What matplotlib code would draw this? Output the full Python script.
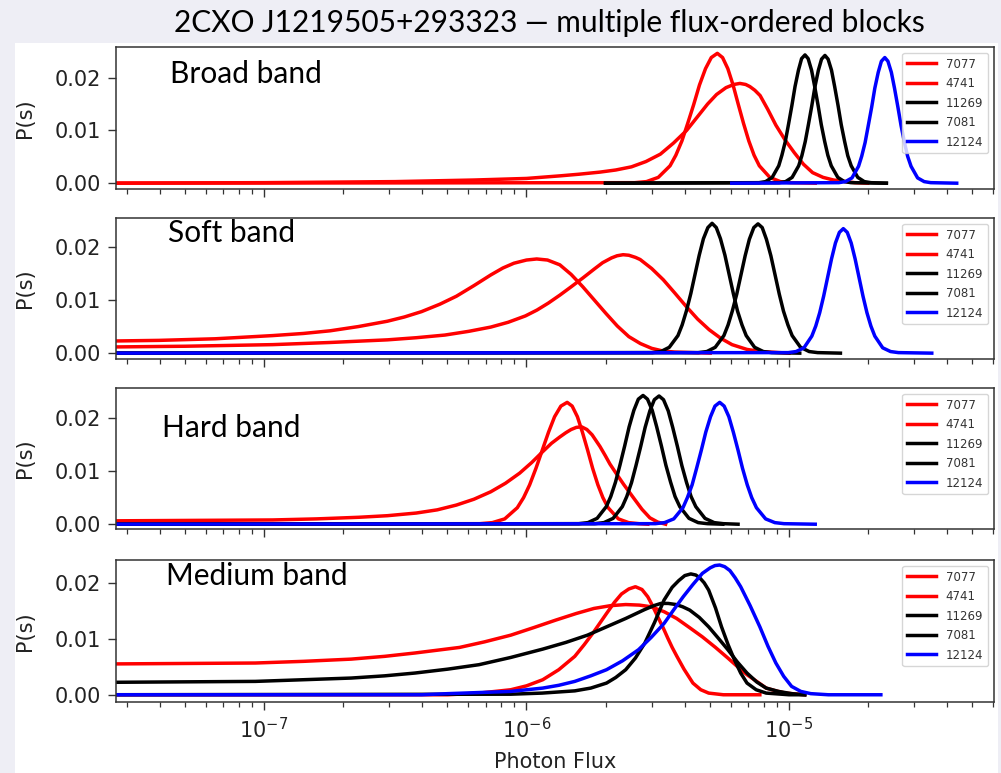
import numpy as np
import matplotlib.pyplot as plt
from matplotlib.patches import Rectangle
from matplotlib.ticker import FormatStrFormatter

title = '2CXO J1219505+293323 \u2014 multiple flux-ordered blocks'
band_names = ['Broad band', 'Soft band', 'Hard band', 'Medium band']
obs_ids = ['7077', '4741', '11269', '7081', '12124']
obs_colors = ['#ff0000', '#ff0000', '#000000', '#000000', '#0000ff']

# log10(photon flux) and P(s)
broad_7077_logf = [-7.7, -5.588, -5.543, -5.498, -5.453, -5.431, -5.408, -5.386, -5.363, -5.341, -5.318, -5.296, -5.273, -5.253, -5.233, -5.213, -5.193, -5.173, -5.153, -5.133, -5.113, -5.073, -5.033, -4.993, -4.9]
broad_7077_p = [0, .0001, .0003, .0011, .0033, .0053, .0080, .0113, .0149, .0186, .0217, .0238, .0246, .0238, .0217, .0186, .0149, .0113, .0080, .0053, .0033, .0011, .0003, .0001, 0]
broad_4741_logf = [-7.7, -7.0, -6.5, -6.2, -6.0, -5.87, -5.8, -5.72, -5.66, -5.6, -5.545, -5.49, -5.44, -5.39, -5.35, -5.31, -5.276, -5.24, -5.21, -5.187, -5.165, -5.149, -5.13, -5.11, -5.081, -5.05, -5.015, -4.98, -4.945, -4.91, -4.87, -4.83, -4.75, -4.7]
broad_4741_p = [0, .0001, .0003, .0006, .0009, .0014, .0017, .0021, .0025, .0031, .0041, .0055, .0076, .0100, .0125, .0150, .0168, .0181, .0187, .0189, .0187, .0183, .0176, .0166, .0140, .0110, .0082, .0058, .0036, .0020, .0011, .0006, .0001, 0]
broad_11269_logf = [-5.699, -5.114, -5.089, -5.064, -5.039, -5.027, -5.014, -5.002, -4.989, -4.977, -4.964, -4.952, -4.939, -4.927, -4.914, -4.902, -4.889, -4.877, -4.864, -4.852, -4.839, -4.814, -4.789, -4.764, -4.629]
broad_11269_p = [0, .0001, .0003, .0011, .0033, .0053, .0079, .0111, .0147, .0183, .0214, .0236, .0243, .0236, .0214, .0183, .0147, .0111, .0079, .0053, .0033, .0011, .0003, .0001, 0]
broad_7081_logf = [-5.699, -5.038, -5.013, -4.988, -4.963, -4.951, -4.938, -4.926, -4.913, -4.901, -4.888, -4.876, -4.863, -4.851, -4.838, -4.826, -4.813, -4.801, -4.788, -4.776, -4.763, -4.738, -4.713, -4.688, -4.629]
broad_7081_p = [0, .0001, .0003, .0011, .0033, .0052, .0079, .0111, .0147, .0183, .0214, .0235, .0242, .0235, .0214, .0183, .0147, .0111, .0079, .0052, .0033, .0011, .0003, .0001, 0]
broad_12124_logf = [-5.218, -4.81, -4.785, -4.76, -4.735, -4.723, -4.71, -4.698, -4.685, -4.673, -4.66, -4.648, -4.635, -4.623, -4.61, -4.598, -4.585, -4.573, -4.56, -4.548, -4.535, -4.51, -4.485, -4.46, -4.361]
broad_12124_p = [0, .0001, .0003, .0010, .0032, .0051, .0077, .0109, .0144, .0180, .0210, .0231, .0238, .0231, .0210, .0180, .0144, .0109, .0077, .0051, .0032, .0010, .0003, .0001, 0]

soft_7077_logf = [-7.7, -7.4, -7.186, -6.967, -6.85, -6.748, -6.64, -6.53, -6.465, -6.40, -6.33, -6.267, -6.2, -6.136, -6.09, -6.048, -6.0, -5.961, -5.92, -5.873, -5.83, -5.786, -5.742, -5.698, -5.654, -5.61, -5.566, -5.523, -5.48, -5.435, -5.3]
soft_7077_p = [.0022, .0024, .0027, .0033, .0037, .0042, .0050, .0060, .0068, .0078, .0092, .0107, .0127, .0147, .0160, .0169, .0175, .0177, .0175, .0166, .0148, .0125, .0100, .0075, .0051, .0031, .0018, .0009, .0004, .0002, 0]
soft_4741_logf = [-7.7, -7.3, -6.967, -6.75, -6.53, -6.42, -6.311, -6.22, -6.136, -6.07, -6.004, -5.96, -5.917, -5.873, -5.829, -5.786, -5.742, -5.71, -5.676, -5.655, -5.632, -5.61, -5.585, -5.567, -5.523, -5.479, -5.435, -5.392, -5.348, -5.304, -5.26, -5.217, -5.16, -5.107, -5.0]
soft_4741_p = [.0011, .0013, .0016, .0020, .0025, .0029, .0034, .0041, .0049, .0058, .0070, .0081, .0094, .0109, .0125, .0141, .0158, .0170, .0179, .0183, .0185, .0184, .0180, .0176, .0159, .0138, .0113, .0088, .0064, .0044, .0028, .0016, .0007, .0003, 0]
soft_11269_logf = [-7.7, -5.521, -5.488, -5.456, -5.423, -5.407, -5.391, -5.374, -5.358, -5.342, -5.326, -5.309, -5.293, -5.277, -5.261, -5.244, -5.228, -5.212, -5.196, -5.179, -5.163, -5.131, -5.098, -5.066, -4.959]
soft_11269_p = [0, .0001, .0003, .0011, .0033, .0053, .0079, .0112, .0148, .0184, .0215, .0236, .0244, .0236, .0215, .0184, .0148, .0112, .0079, .0053, .0033, .0011, .0003, .0001, 0]
soft_7081_logf = [-7.7, -5.346, -5.313, -5.281, -5.248, -5.232, -5.216, -5.199, -5.183, -5.167, -5.151, -5.134, -5.118, -5.102, -5.086, -5.069, -5.053, -5.037, -5.021, -5.004, -4.988, -4.956, -4.923, -4.891, -4.804]
soft_7081_p = [0, .0001, .0003, .0011, .0033, .0053, .0079, .0111, .0147, .0183, .0214, .0236, .0243, .0236, .0214, .0183, .0147, .0111, .0079, .0053, .0033, .0011, .0003, .0001, 0]
soft_12124_logf = [-7.7, -5.003, -4.973, -4.943, -4.913, -4.898, -4.883, -4.868, -4.853, -4.838, -4.823, -4.808, -4.793, -4.778, -4.763, -4.748, -4.733, -4.718, -4.703, -4.688, -4.673, -4.643, -4.613, -4.583, -4.456]
soft_12124_p = [0, .0001, .0003, .0010, .0032, .0051, .0076, .0107, .0142, .0177, .0207, .0227, .0234, .0227, .0207, .0177, .0142, .0107, .0076, .0051, .0032, .0010, .0003, .0001, 0]

hard_7077_logf = [-7.7, -6.178, -6.13, -6.083, -6.035, -6.011, -5.988, -5.964, -5.94, -5.916, -5.893, -5.869, -5.845, -5.826, -5.806, -5.787, -5.767, -5.748, -5.728, -5.709, -5.689, -5.65, -5.611, -5.572, -5.538]
hard_7077_p = [0, .0001, .0003, .0010, .0031, .0050, .0074, .0105, .0139, .0173, .0202, .0222, .0229, .0222, .0202, .0173, .0139, .0105, .0074, .0050, .0031, .0010, .0003, .0001, 0]
hard_4741_logf = [-7.7, -6.967, -6.8, -6.64, -6.53, -6.42, -6.34, -6.267, -6.2, -6.136, -6.08, -6.026, -5.98, -5.939, -5.905, -5.873, -5.85, -5.83, -5.81, -5.79, -5.77, -5.75, -5.72, -5.70, -5.682, -5.655, -5.63, -5.593, -5.56, -5.53, -5.50, -5.47]
hard_4741_p = [.0006, .0008, .0010, .0013, .0016, .0021, .0027, .0036, .0047, .0061, .0077, .0096, .0116, .0136, .0152, .0164, .0172, .0178, .0182, .0183, .0178, .0168, .0146, .0129, .0113, .0093, .0075, .0050, .0028, .0012, .0004, 0]
hard_11269_logf = [-7.7, -5.801, -5.766, -5.731, -5.696, -5.679, -5.661, -5.644, -5.626, -5.609, -5.591, -5.574, -5.556, -5.539, -5.521, -5.504, -5.486, -5.469, -5.451, -5.434, -5.416, -5.381, -5.346, -5.311, -5.252]
hard_11269_p = [0, .0001, .0003, .0011, .0033, .0052, .0079, .0111, .0147, .0183, .0214, .0235, .0242, .0235, .0214, .0183, .0147, .0111, .0079, .0052, .0033, .0011, .0003, .0001, 0]
hard_7081_logf = [-7.7, -5.74, -5.705, -5.67, -5.635, -5.618, -5.60, -5.583, -5.565, -5.548, -5.53, -5.513, -5.495, -5.478, -5.46, -5.443, -5.425, -5.408, -5.39, -5.373, -5.355, -5.32, -5.285, -5.25, -5.194]
hard_7081_p = [0, .0001, .0003, .0011, .0033, .0052, .0078, .0110, .0146, .0182, .0213, .0234, .0241, .0234, .0213, .0182, .0146, .0110, .0078, .0052, .0033, .0011, .0003, .0001, 0]
hard_12124_logf = [-7.7, -5.509, -5.474, -5.439, -5.404, -5.387, -5.369, -5.352, -5.334, -5.317, -5.299, -5.282, -5.264, -5.247, -5.229, -5.212, -5.194, -5.177, -5.159, -5.142, -5.124, -5.089, -5.054, -5.019, -4.9]
hard_12124_p = [0, .0001, .0003, .0010, .0031, .0050, .0074, .0105, .0139, .0173, .0202, .0222, .0229, .0222, .0202, .0173, .0139, .0105, .0074, .0050, .0031, .0010, .0003, .0001, 0]

medium_7077_logf = [-7.7, -6.3, -6.18, -6.06, -6.0, -5.938, -5.877, -5.816, -5.78, -5.745, -5.695, -5.665, -5.638, -5.61, -5.585, -5.56, -5.538, -5.52, -5.5, -5.48, -5.462, -5.445, -5.427, -5.40, -5.366, -5.336, -5.306, -5.25, -5.111]
medium_7077_p = [0, 0, .0003, .0009, .0016, .0027, .0045, .0069, .0090, .0112, .0146, .0166, .0181, .0190, .0194, .0189, .0176, .0160, .0140, .0121, .0102, .0085, .0069, .0046, .0021, .0009, .0003, 0, 0]
medium_4741_logf = [-7.7, -7.033, -6.85, -6.668, -6.54, -6.425, -6.34, -6.255, -6.16, -6.06, -5.97, -5.889, -5.81, -5.743, -5.68, -5.622, -5.57, -5.525, -5.475, -5.428, -5.38, -5.33, -5.28, -5.233, -5.195, -5.16, -5.12, -5.087, -5.05, -5.013, -4.94]
medium_4741_p = [.0055, .0057, .0060, .0064, .0069, .0075, .0080, .0085, .0095, .0107, .0121, .0134, .0146, .0155, .0160, .0162, .0161, .0158, .0149, .0137, .0121, .0104, .0085, .0066, .0050, .0036, .0023, .0012, .0007, .0003, 0]
medium_11269_logf = [-7.7, -7.033, -6.85, -6.668, -6.54, -6.425, -6.3, -6.181, -6.06, -5.938, -5.85, -5.768, -5.695, -5.622, -5.55, -5.515, -5.488, -5.46, -5.43, -5.405, -5.378, -5.342, -5.306, -5.27, -5.233, -5.197, -5.16, -5.123, -5.087, -5.04, -4.99, -4.94]
medium_11269_p = [.0022, .0024, .0027, .0030, .0034, .0039, .0046, .0054, .0067, .0082, .0094, .0107, .0122, .0137, .0153, .0160, .0164, .0164, .0162, .0158, .0152, .0139, .0122, .0102, .0081, .0059, .0039, .0023, .0012, .0006, .0002, 0]
medium_7081_logf = [-7.7, -6.06, -5.94, -5.816, -5.755, -5.695, -5.66, -5.622, -5.585, -5.549, -5.512, -5.476, -5.445, -5.42, -5.397, -5.374, -5.355, -5.34, -5.323, -5.306, -5.28, -5.257, -5.232, -5.208, -5.184, -5.16, -5.125, -5.087, -5.0, -4.94]
medium_7081_p = [0, .0001, .0003, .0007, .0012, .0021, .0031, .0045, .0066, .0093, .0130, .0170, .0193, .0205, .0214, .0217, .0215, .0210, .0201, .0188, .0156, .0122, .0090, .0063, .0039, .0021, .0009, .0003, 0, 0]
medium_12124_logf = [-7.7, -6.4, -6.3, -6.18, -6.06, -5.938, -5.877, -5.816, -5.755, -5.695, -5.634, -5.573, -5.525, -5.476, -5.44, -5.403, -5.366, -5.33, -5.30, -5.282, -5.264, -5.245, -5.225, -5.205, -5.184, -5.148, -5.111, -5.08, -5.05, -5.02, -4.99, -4.955, -4.917, -4.85, -4.65]
medium_12124_p = [0, 0, .0002, .0004, .0006, .0012, .0017, .0024, .0034, .0045, .0061, .0081, .0103, .0128, .0152, .0176, .0198, .0218, .0228, .0232, .0233, .0230, .0223, .0210, .0194, .0160, .0122, .0087, .0057, .0033, .0015, .0006, .0002, 0, 0]

bands = [
    ([broad_7077_logf, broad_4741_logf, broad_11269_logf, broad_7081_logf, broad_12124_logf],
     [broad_7077_p, broad_4741_p, broad_11269_p, broad_7081_p, broad_12124_p]),
    ([soft_7077_logf, soft_4741_logf, soft_11269_logf, soft_7081_logf, soft_12124_logf],
     [soft_7077_p, soft_4741_p, soft_11269_p, soft_7081_p, soft_12124_p]),
    ([hard_7077_logf, hard_4741_logf, hard_11269_logf, hard_7081_logf, hard_12124_logf],
     [hard_7077_p, hard_4741_p, hard_11269_p, hard_7081_p, hard_12124_p]),
    ([medium_7077_logf, medium_4741_logf, medium_11269_logf, medium_7081_logf, medium_12124_logf],
     [medium_7077_p, medium_4741_p, medium_11269_p, medium_7081_p, medium_12124_p]),
]

W, H = 1001, 773
# panel top / bottom in pixels, y-limits, band label position (left, baseline)
panel_px = [(47, 189), (218, 359), (388, 529), (560, 702)]
panel_ylim = [(-0.0011, 0.0258), (-0.0011, 0.0254), (-0.0009, 0.0256), (-0.0013, 0.0242)]
label_pos = [(170, 83), (168, 242), (162, 437), (166, 585)]

fig = plt.figure(figsize=(W / 100, H / 100), dpi=100, facecolor='#eeeef5')
fig.add_artist(Rectangle((15 / W, 0), 983 / W, 730 / H, transform=fig.transFigure,
                         facecolor='white', edgecolor='none', zorder=-10))

axes = []
for i, (logfs, probs) in enumerate(bands):
    top, bot = panel_px[i]
    ax = fig.add_axes([116 / W, 1 - bot / H, 878 / W, (bot - top) / H],
                      sharex=axes[0] if axes else None)
    axes.append(ax)
    for lf, p, lab, c in zip(logfs, probs, obs_ids, obs_colors):
        ax.plot(10 ** np.array(lf), p, color=c, lw=2.5, label=lab)
    ax.set_xscale('log')
    ax.set_xlim(2.73e-8, 6.04e-5)
    ax.set_ylim(*panel_ylim[i])
    ax.set_yticks([0, 0.01, 0.02])
    ax.yaxis.set_major_formatter(FormatStrFormatter('%.2f'))
    ax.set_ylabel('P(s)', fontsize=15, color='#222222')
    ax.yaxis.set_label_coords(-0.092, 0.5)
    ax.tick_params(which='major', length=5.8, width=1.0, labelsize=15, pad=5,
                   labelcolor='#222222', color='#333333')
    ax.tick_params(which='minor', length=3.4, width=0.9, color='#333333')
    for s in ax.spines.values():
        s.set_linewidth(1.1)
        s.set_color('#333333')
    if i < 3:
        ax.tick_params(labelbottom=False)
    leg = ax.legend(loc='upper right', fontsize=8.5, labelspacing=0.55,
                    handlelength=2.5, borderaxespad=0.5)
    for t in leg.get_texts():
        t.set_color('#333333')
    lx, ly = label_pos[i]
    fig.text(lx / W, 1 - ly / H, band_names[i], fontsize=21.5, family='Lato',
             va='baseline', ha='left')

axes[-1].set_xlabel('Photon Flux', fontsize=15, color='#222222')
axes[-1].xaxis.set_label_coords(0.5, -0.35)

fig.text(549 / W, 1 - 32 / H, title, fontsize=21.5, family='Lato',
         ha='center', va='baseline')

fig.savefig('out.png', dpi=100, facecolor=fig.get_facecolor())
